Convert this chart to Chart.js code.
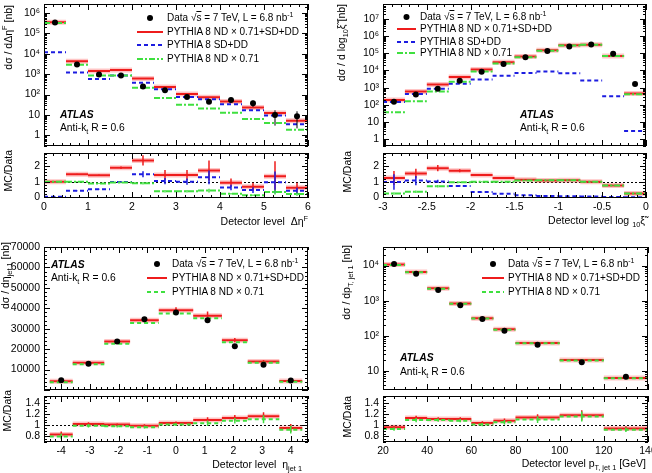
<!DOCTYPE html>
<html>
<head>
<meta charset="utf-8">
<title>ATLAS jet distributions</title>
<script src="https://cdn.jsdelivr.net/npm/chart.js@4.4.1/dist/chart.umd.min.js"></script>
<style>
  body { margin: 0; width: 652px; height: 473px; position: relative; overflow: hidden; background: #fff;
         font-family: "Liberation Sans", Arial, sans-serif; color: #000; }
  canvas { position: absolute; }
  .t { position: absolute; white-space: nowrap; line-height: 1; }
  .yt { position: absolute; width: 0; height: 0; }
  .yt span { position: absolute; right: 0; top: 0; transform-origin: right top; transform: rotate(-90deg);
             white-space: nowrap; line-height: 1; font-size: 10.5px; }
  sup, sub { font-size: 70%; line-height: 0; }
  .atlas { font-weight: bold; font-style: italic; }
  .ov { text-decoration: overline; }
</style>
</head>
<body>
<canvas id="c1"></canvas>
<canvas id="c1r"></canvas>
<canvas id="c2"></canvas>
<canvas id="c2r"></canvas>
<canvas id="c3"></canvas>
<canvas id="c3r"></canvas>
<canvas id="c4"></canvas>
<canvas id="c4r"></canvas>
<div id="labels"></div>
<script>
  // --- delta eta F (top left) ---
  const dEtaEdges = [0, 0.5, 1, 1.5, 2, 2.5, 3, 3.5, 4, 4.5, 5, 5.5, 6];
  const dEtaData = [350000, 3000, 980, 870, 250, 165, 76, 44, 55, 38, 10, 8.7];
  const dEtaDataErr = [9000, 120, 45, 40, 14, 10, 6, 5, 8, 13, 7, 6.5];
  const dEtaSum = [360000, 4300, 1450, 1600, 620, 235, 107, 74, 46, 23, 12.6, 5.2];
  const dEtaSdDd = [12000, 1200, 580, 870, 380, 185, 76, 59, 34, 17, 9.5, 3.5];
  const dEtaNd = [330000, 2900, 870, 870, 220, 68, 32, 21, 13, 6.3, 4, 1.9];
  const dEtaRatioSum = [1.0, 1.48, 1.42, 1.9, 2.37, 1.43, 1.43, 1.72, 0.93, 0.67, 1.35, 0.61];
  const dEtaRatioSdDd = [0.03, 0.41, 0.52, 0.98, 1.48, 1.04, 1.0, 1.28, 0.63, 0.46, 0.96, 0.41];
  const dEtaRatioNd = [1.0, 1.0, 0.89, 0.95, 0.9, 0.39, 0.39, 0.43, 0.22, 0.13, 0.33, 0.2];
  const dEtaErrSum = [0.02, 0.04, 0.05, 0.08, 0.33, 0.33, 0.33, 0.65, 0.27, 0.27, 0.97, 0.33];
  const dEtaErrSdDd = [0.01, 0.03, 0.03, 0.06, 0.2, 0.2, 0.2, 0.45, 0.18, 0.18, 0.7, 0.2];
  const dEtaErrNd = [0.02, 0.03, 0.03, 0.05, 0.08, 0.08, 0.08, 0.12, 0.05, 0.05, 0.15, 0.1];
  const dEtaXTicks = [0, 1, 2, 3, 4, 5, 6];
  const dEtaYTicks = [1, 10, 100, 1e3, 1e4, 1e5, 1e6];
  const dEtaYLabels = ['1', '10', '10²', '10³', '10⁴', '10⁵', '10⁶'];

  // --- log10 xi (top right) ---
  const xiEdges = [-3, -2.75, -2.5, -2.25, -2, -1.75, -1.5, -1.25, -1, -0.75, -0.5, -0.25, 0];
  const xiData = [150, 400, 850, 2500, 8300, 24000, 58000, 135000, 250000, 330000, 95000, 1650];
  const xiDataErr = [25, 40, 60, 100, 250, 500, 1000, 2000, 3000, 4000, 1500, 100];
  const xiSum = [190, 600, 1500, 4100, 11300, 30000, 66000, 148000, 290000, 315000, 70000, 450];
  const xiSdDd = [145, 425, 850, 1700, 3000, 4900, 7200, 8700, 6900, 2600, 310, 3];
  const xiNd = [37, 160, 600, 2200, 8700, 25000, 59000, 140000, 283000, 312000, 70000, 410];
  const xiRatioSum = [1.24, 1.53, 1.87, 1.71, 1.44, 1.24, 1.13, 1.07, 1.1, 1.0, 0.76, 0.24];
  const xiRatioSdDd = [0.98, 1.07, 1.02, 0.73, 0.33, 0.22, 0.12, 0.08, 0.06, 0.04, 0.02, 0.0];
  const xiRatioNd = [0.24, 0.36, 0.71, 0.96, 1.0, 1.0, 1.07, 1.1, 1.1, 1.0, 0.76, 0.24];
  const xiErrSum = [0.45, 0.3, 0.2, 0.1, 0.05, 0.03, 0.02, 0.02, 0.02, 0.02, 0.02, 0.02];
  const xiErrSdDd = [0.5, 0.3, 0.1, 0.05, 0.02, 0.01, 0.01, 0.01, 0.01, 0.01, 0.01, 0.01];
  const xiErrNd = [0.08, 0.08, 0.08, 0.05, 0.03, 0.02, 0.02, 0.02, 0.02, 0.02, 0.02, 0.02];
  const xiXTicks = [-3, -2.5, -2, -1.5, -1, -0.5, 0];
  const xiYTicks = [1, 10, 100, 1e3, 1e4, 1e5, 1e6, 1e7];
  const xiYLabels = ['1', '10', '10²', '10³', '10⁴', '10⁵', '10⁶', '10⁷'];

  // --- eta jet 1 (bottom left) ---
  const etaEdges = [-4.4, -3.6, -2.5, -1.6, -0.6, 0.6, 1.6, 2.5, 3.6, 4.4];
  const etaData = [4800, 12900, 23700, 34600, 37900, 34100, 21400, 12300, 4600];
  const etaDataErr = [150, 250, 300, 400, 400, 400, 300, 250, 150];
  const etaSum = [4300, 13300, 23700, 34100, 39000, 36400, 24400, 13900, 4450];
  const etaSumErr = [300, 500, 700, 900, 1500, 2000, 1000, 800, 400];
  const etaNd = [3800, 12600, 22700, 32800, 37400, 35100, 23400, 13400, 4000];
  const etaRatioSum = [0.835, 1.02, 1.01, 0.99, 1.04, 1.09, 1.13, 1.16, 0.95];
  const etaRatioNd = [0.8, 0.99, 0.98, 0.965, 1.01, 1.035, 1.08, 1.105, 0.92];
  const etaRatioErr = [0.05, 0.03, 0.02, 0.025, 0.025, 0.05, 0.05, 0.07, 0.07];
  const etaXTicks = [-4, -3, -2, -1, 0, 1, 2, 3, 4];
  const etaYTicks = [10000, 20000, 30000, 40000, 50000, 60000, 70000];
  const etaYLabels = ['10000', '20000', '30000', '40000', '50000', '60000', '70000'];

  // --- pT jet 1 (bottom right) ---
  const ptEdges = [20, 30, 40, 50, 60, 70, 80, 100, 120, 140];
  const ptData = [11200, 5900, 2000, 740, 300, 138, 55, 17.5, 6.7];
  const ptDataErr = [150, 90, 40, 15, 8, 4, 2, 1, 0.6];
  const ptSum = [10700, 6600, 2240, 830, 315, 152, 62, 20, 6.2];
  const ptNd = [10400, 6450, 2180, 810, 308, 148, 60.5, 19.6, 6.1];
  const ptRatioSum = [0.965, 1.13, 1.11, 1.11, 1.04, 1.08, 1.135, 1.175, 0.94];
  const ptRatioNd = [0.93, 1.09, 1.09, 1.08, 1.01, 1.05, 1.1, 1.155, 0.92];
  const ptRatioErr = [0.03, 0.04, 0.03, 0.03, 0.03, 0.04, 0.06, 0.09, 0.04];
  const ptXTicks = [20, 40, 60, 80, 100, 120, 140];
  const ptYTicks = [10, 100, 1e3, 1e4];
  const ptYLabels = ['10', '10²', '10³', '10⁴'];

  const ratioWideTicks = [0, 1, 2];
  const ratioNarrowTicks = [0.8, 1, 1.2, 1.4];

  const RED = '#ee1c1c', BAND = 'rgba(255, 90, 90, 0.35)', BLUE = '#1c1ce0', GREEN = '#3fe03f';
  const FONT = { family: '"Liberation Sans", Arial, sans-serif', size: 10.5 };

  const mid = (e, i) => (e[i] + e[i + 1]) / 2;
  const steps = (e, v) => v.flatMap((y, i) => [{ x: e[i], y }, { x: e[i + 1], y }, { x: e[i + 1], y: null }]);
  const vbars = (e, v, err) => v.flatMap((y, i) => [
    { x: mid(e, i), y: Math.max(y - err[i], 1e-3) }, { x: mid(e, i), y: y + err[i] }, { x: mid(e, i), y: null }]);
  const dots = (e, v) => v.map((y, i) => ({ x: mid(e, i), y }));

  const line = (data, color, width, dash) => ({
    data, borderColor: color, borderWidth: width, borderDash: dash || [],
    pointRadius: 0, fill: false, spanGaps: false, tension: 0,
  });
  const points = (data) => ({
    data, showLine: false, pointRadius: 3, pointBackgroundColor: '#000', pointBorderColor: '#000', pointBorderWidth: 0,
  });

  // frame, inward ticks and the dotted line at 1 in the ratio pads
  const framePlugin = {
    id: 'frame',
    beforeDatasetsDraw(chart, args, o) {
      if (o.ref == null) return;
      const { ctx, chartArea: a } = chart;
      const py = Math.round(chart.scales.y.getPixelForValue(o.ref)) + 0.5;
      ctx.save();
      ctx.strokeStyle = '#000';
      ctx.lineWidth = 1;
      ctx.setLineDash([2, 2]);
      ctx.beginPath();
      ctx.moveTo(a.left, py);
      ctx.lineTo(a.right, py);
      ctx.stroke();
      ctx.restore();
    },
    afterDatasetsDraw(chart, args, o) {
      const { ctx, chartArea: a, scales: { x, y } } = chart;
      const marks = (sc, step, minor, log) => {
        const out = [];
        if (log) {
          for (let e = Math.floor(Math.log10(sc.min)); e <= Math.ceil(Math.log10(sc.max)); e++) {
            for (let k = 1; k < 10; k++) {
              const v = k * 10 ** e;
              if (v >= sc.min && v <= sc.max) out.push([v, k === 1]);
            }
          }
        } else {
          const n0 = Math.ceil(sc.min / minor - 1e-6), n1 = Math.floor(sc.max / minor + 1e-6);
          for (let n = n0; n <= n1; n++) {
            const v = n * minor;
            out.push([v, Math.abs(v / step - Math.round(v / step)) < 1e-6]);
          }
        }
        return out;
      };
      ctx.save();
      ctx.strokeStyle = '#000';
      ctx.lineWidth = 1;
      ctx.beginPath();
      marks(x, o.x[0], o.x[1], false).forEach(([v, major]) => {
        const px = Math.round(x.getPixelForValue(v)) + 0.5, l = major ? o.len : o.len / 2;
        ctx.moveTo(px, a.bottom); ctx.lineTo(px, a.bottom - l);
        ctx.moveTo(px, a.top); ctx.lineTo(px, a.top + l);
      });
      marks(y, o.y ? o.y[0] : 0, o.y ? o.y[1] : 0, o.log).forEach(([v, major]) => {
        const py = Math.round(y.getPixelForValue(v)) + 0.5, l = major ? o.len : o.len / 2;
        ctx.moveTo(a.left, py); ctx.lineTo(a.left + l, py);
        ctx.moveTo(a.right, py); ctx.lineTo(a.right - l, py);
      });
      ctx.stroke();
      ctx.strokeRect(Math.round(a.left) + 0.5, Math.round(a.top) + 0.5,
        Math.round(a.right) - Math.round(a.left) - 1, Math.round(a.bottom) - Math.round(a.top) - 1);
      ctx.restore();
    },
  };

  function makePanel(id, box, area, cfg) {
    const cv = document.getElementById(id);
    cv.width = box[2];
    cv.height = box[3];
    Object.assign(cv.style, { left: box[0] + 'px', top: box[1] + 'px', width: box[2] + 'px', height: box[3] + 'px' });
    const xh = cfg.xLabels ? 15 : 0;
    const fit = (w, h) => (s) => {
      if (w != null) s.width = w;
      if (h != null) s.height = h;
      s.paddingLeft = s.paddingRight = s.paddingTop = s.paddingBottom = 0;
    };
    return new Chart(cv, {
      type: 'line',
      data: { datasets: cfg.datasets },
      options: {
        responsive: false,
        animation: false,
        events: [],
        layout: {
          padding: { left: 0, top: area[1] - box[1], right: box[0] + box[2] - area[2], bottom: box[1] + box[3] - area[3] - xh },
        },
        plugins: { legend: { display: false }, tooltip: { enabled: false }, frame: cfg.frame },
        scales: {
          x: {
            type: 'linear', min: cfg.xRange[0], max: cfg.xRange[1],
            grid: { display: false, drawTicks: false }, border: { display: false },
            ticks: {
              display: !!cfg.xLabels, autoSkip: false, maxRotation: 0, padding: 3, color: '#000', font: FONT,
              callback: (v, i) => (cfg.xLabels ? cfg.xLabels[i] : ''),
            },
            afterBuildTicks: (s) => { s.ticks = cfg.xTicks.map((v) => ({ value: v })); },
            afterFit: fit(null, xh),
          },
          y: {
            type: cfg.log ? 'logarithmic' : 'linear', min: cfg.yRange[0], max: cfg.yRange[1],
            grid: { display: false, drawTicks: false }, border: { display: false },
            ticks: {
              autoSkip: false, padding: 4, color: '#000', font: FONT,
              callback: (v, i) => cfg.yLabels[i],
            },
            afterBuildTicks: (s) => { s.ticks = cfg.yTicks.map((v) => ({ value: v })); },
            afterFit: fit(area[0] - box[0], null),
          },
        },
      },
      plugins: [framePlugin],
    });
  }

  const DASH = [4, 3], DASHDOT = [6, 2, 2, 2];

  // top left
  makePanel('c1', [0, 0, 326, 150], [44, 4, 308, 147], {
    xRange: [0, 6], xTicks: dEtaXTicks, yRange: [0.32, 2.8e6], log: true, yTicks: dEtaYTicks, yLabels: dEtaYLabels,
    frame: { x: [1, 0.2], log: true, len: 6 },
    datasets: [
      points(dots(dEtaEdges, dEtaData)),
      line(vbars(dEtaEdges, dEtaData, dEtaDataErr), '#000', 1),
      line(steps(dEtaEdges, dEtaNd), GREEN, 2, DASHDOT),
      line(steps(dEtaEdges, dEtaSdDd), BLUE, 2, DASH),
      line(steps(dEtaEdges, dEtaSum), RED, 2),
      line(steps(dEtaEdges, dEtaSum), BAND, 5),
    ],
  });
  makePanel('c1r', [0, 150, 326, 70], [44, 153, 308, 198], {
    xRange: [0, 6], xTicks: dEtaXTicks, xLabels: dEtaXTicks.map(String),
    yRange: [-0.05, 2.85], yTicks: ratioWideTicks, yLabels: ratioWideTicks.map(String),
    frame: { x: [1, 0.2], y: [1, 0.2], len: 6, ref: 1 },
    datasets: [
      line(steps(dEtaEdges, dEtaRatioNd), GREEN, 2, DASHDOT),
      line(vbars(dEtaEdges, dEtaRatioNd, dEtaErrNd), GREEN, 1.5),
      line(steps(dEtaEdges, dEtaRatioSdDd), BLUE, 2, DASH),
      line(vbars(dEtaEdges, dEtaRatioSdDd, dEtaErrSdDd), BLUE, 1.5),
      line(steps(dEtaEdges, dEtaRatioSum), RED, 2),
      line(vbars(dEtaEdges, dEtaRatioSum, dEtaErrSum), RED, 1.5),
      line(steps(dEtaEdges, dEtaRatioSum), BAND, 5),
    ],
  });

  // top right
  makePanel('c2', [326, 0, 326, 150], [383, 4, 646, 147], {
    xRange: [-3, 0], xTicks: xiXTicks, yRange: [0.4, 7.4e7], log: true, yTicks: xiYTicks, yLabels: xiYLabels,
    frame: { x: [0.5, 0.1], log: true, len: 6 },
    datasets: [
      points(dots(xiEdges, xiData)),
      line(vbars(xiEdges, xiData, xiDataErr), '#000', 1),
      line(steps(xiEdges, xiNd), GREEN, 2, DASHDOT),
      line(steps(xiEdges, xiSdDd), BLUE, 2, DASH),
      line(steps(xiEdges, xiSum), RED, 2),
      line(steps(xiEdges, xiSum), BAND, 5),
    ],
  });
  makePanel('c2r', [326, 150, 326, 70], [383, 153, 646, 198], {
    xRange: [-3, 0], xTicks: xiXTicks, xLabels: xiXTicks.map(String),
    yRange: [-0.05, 2.85], yTicks: ratioWideTicks, yLabels: ratioWideTicks.map(String),
    frame: { x: [0.5, 0.1], y: [1, 0.2], len: 6, ref: 1 },
    datasets: [
      line(steps(xiEdges, xiRatioNd), GREEN, 2, DASHDOT),
      line(vbars(xiEdges, xiRatioNd, xiErrNd), GREEN, 1.5),
      line(steps(xiEdges, xiRatioSdDd), BLUE, 2, DASH),
      line(vbars(xiEdges, xiRatioSdDd, xiErrSdDd), BLUE, 1.5),
      line(steps(xiEdges, xiRatioSum), RED, 2),
      line(vbars(xiEdges, xiRatioSum, xiErrSum), RED, 1.5),
      line(steps(xiEdges, xiRatioSum), BAND, 5),
    ],
  });

  // bottom left
  makePanel('c3', [0, 240, 326, 154], [44, 247, 308, 391], {
    xRange: [-4.6, 4.6], xTicks: etaXTicks, yRange: [0, 70000], yTicks: etaYTicks, yLabels: etaYLabels,
    frame: { x: [1, 0.2], y: [10000, 2000], len: 6 },
    datasets: [
      points(dots(etaEdges, etaData)),
      line(vbars(etaEdges, etaData, etaDataErr), '#000', 1),
      line(steps(etaEdges, etaNd), GREEN, 2, DASH),
      line(steps(etaEdges, etaSum), RED, 2),
      line(vbars(etaEdges, etaSum, etaSumErr), RED, 1.5),
      line(steps(etaEdges, etaSum), BAND, 5),
    ],
  });
  makePanel('c3r', [0, 394, 326, 72], [44, 396, 308, 442], {
    xRange: [-4.6, 4.6], xTicks: etaXTicks, xLabels: etaXTicks.map(String),
    yRange: [0.7, 1.52], yTicks: ratioNarrowTicks, yLabels: ratioNarrowTicks.map(String),
    frame: { x: [1, 0.2], y: [0.2, 0.05], len: 6, ref: 1 },
    datasets: [
      line(steps(etaEdges, etaRatioNd), GREEN, 2, DASH),
      line(vbars(etaEdges, etaRatioNd, etaRatioErr), GREEN, 1.5),
      line(steps(etaEdges, etaRatioSum), RED, 2),
      line(vbars(etaEdges, etaRatioSum, etaRatioErr), RED, 1.5),
      line(steps(etaEdges, etaRatioSum), BAND, 5),
    ],
  });

  // bottom right
  makePanel('c4', [326, 240, 326, 154], [383, 247, 648, 391], {
    xRange: [20, 140], xTicks: ptXTicks, yRange: [2.8, 34000], log: true, yTicks: ptYTicks, yLabels: ptYLabels,
    frame: { x: [20, 5], log: true, len: 6 },
    datasets: [
      points(dots(ptEdges, ptData)),
      line(vbars(ptEdges, ptData, ptDataErr), '#000', 1),
      line(steps(ptEdges, ptNd), GREEN, 2, DASH),
      line(steps(ptEdges, ptSum), RED, 2),
      line(steps(ptEdges, ptSum), BAND, 5),
    ],
  });
  makePanel('c4r', [326, 394, 326, 72], [383, 396, 648, 442], {
    xRange: [20, 140], xTicks: ptXTicks, xLabels: ptXTicks.map(String),
    yRange: [0.7, 1.52], yTicks: ratioNarrowTicks, yLabels: ratioNarrowTicks.map(String),
    frame: { x: [20, 5], y: [0.2, 0.05], len: 6, ref: 1 },
    datasets: [
      line(steps(ptEdges, ptRatioNd), GREEN, 2, DASH),
      line(vbars(ptEdges, ptRatioNd, ptRatioErr), GREEN, 1.5),
      line(steps(ptEdges, ptRatioSum), RED, 2),
      line(vbars(ptEdges, ptRatioSum, ptRatioErr), RED, 1.5),
      line(steps(ptEdges, ptRatioSum), BAND, 5),
    ],
  });

  // --- text: axis titles, legends, ATLAS labels ---
  const out = [];
  const text = (left, cy, fs, html, cls) =>
    out.push(`<div class="t ${cls || ''}" style="left:${left}px;top:${cy - fs * 0.5}px;font-size:${fs}px">${html}</div>`);
  const textR = (right, cy, fs, html) =>
    out.push(`<div class="t" style="right:${652 - right}px;top:${cy - fs * 0.5}px;font-size:${fs}px">${html}</div>`);
  const ytitle = (left, top, html) => out.push(`<div class="yt" style="left:${left}px;top:${top}px"><span>${html}</span></div>`);
  const marker = (x0, x1, cy, kind, color, dash) => {
    const w = x1 - x0;
    const shape = kind === 'dot'
      ? `<circle cx="${w / 2}" cy="4" r="3" fill="#000"/>`
      : `<line x1="0" y1="4" x2="${w}" y2="4" stroke="${color}" stroke-width="2" stroke-dasharray="${dash || ''}"/>`;
    out.push(`<svg style="position:absolute;left:${x0}px;top:${cy - 4}px" width="${w}" height="8">${shape}</svg>`);
  };
  const DATA = 'Data √<span class="ov">s</span> = 7 TeV, L = 6.8 nb<sup>-1</sup>';
  const SUM = 'PYTHIA 8 ND × 0.71+SD+DD', SDDD = 'PYTHIA 8 SD+DD', ND = 'PYTHIA 8 ND × 0.71';

  function legend(x0, x1, tx, rows, fs, greenDash) {
    const items = [['dot', '#000', '', DATA], ['line', RED, '', SUM], ['line', BLUE, '4 3', SDDD], ['line', GREEN, greenDash, ND]];
    const use = rows.length === 4 ? items : [items[0], items[1], items[3]];
    use.forEach((it, i) => {
      marker(x0, x1, rows[i], it[0], it[1], it[2]);
      text(tx, rows[i], fs, it[3]);
    });
  }

  legend(137, 163, 167, [18, 31.5, 45, 58.5], 10, '6 2 2 2');
  legend(397, 416, 420, [17, 29.3, 41.5, 53], 10, '6 2 2 2');
  legend(147, 167, 172, [264, 278, 292], 10, '4 3');
  legend(482, 504, 508, [264, 278, 292], 10, '4 3');

  const ANTI = 'Anti-k<sub>t</sub> R = 0.6';
  text(60, 115.5, 10.3, 'ATLAS', 'atlas'); text(60, 128.5, 10.3, ANTI);
  text(520, 115.5, 10.3, 'ATLAS', 'atlas'); text(520, 128.5, 10.3, ANTI);
  text(51, 265, 10.3, 'ATLAS', 'atlas'); text(51, 278.5, 10.3, ANTI);
  text(400, 358.5, 10.3, 'ATLAS', 'atlas'); text(400, 372.5, 10.3, ANTI);

  ytitle(3, 5, 'dσ / dΔη<sup>F</sup> [nb]');
  ytitle(3, 150, 'MC/Data');
  ytitle(336, 4, 'dσ / d log<sub>10</sub>ξ̃ [nb]');
  ytitle(342, 151, 'MC/Data');
  ytitle(0, 242, 'dσ / dη<sub>jet 1</sub> [nb]');
  ytitle(2, 390, 'MC/Data');
  ytitle(341, 245, 'dσ / dp<sub>T, jet 1</sub> [nb]');
  ytitle(342, 396, 'MC/Data');

  textR(308, 221.5, 10.5, 'Detector level&nbsp; Δη<sup>F</sup>');
  textR(645, 220.5, 10.5, 'Detector level log <sub>10</sub>ξ̃');
  textR(302, 464, 10.5, 'Detector level&nbsp; η<sub>jet 1</sub>');
  textR(646, 463, 10.5, 'Detector level p<sub>T, jet 1</sub> [GeV]');

  document.getElementById('labels').innerHTML = out.join('');
</script>
</body>
</html>
